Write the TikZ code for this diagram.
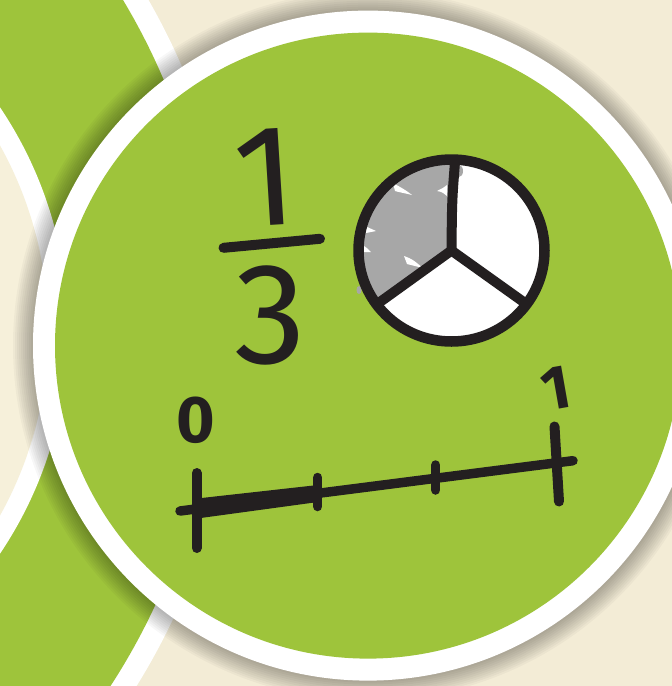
\documentclass[tikz,border=0pt]{standalone}
\usepackage{fontspec}
\setmainfont{Fira Sans}
\definecolor{bg}{HTML}{F3ECD6}
\definecolor{creamc}{HTML}{F6F0DA}
\definecolor{leaf}{HTML}{9EC43B}
\definecolor{ink}{HTML}{231F20}
\definecolor{piegray}{HTML}{A7A7A7}
\begin{document}
\begin{tikzpicture}[x=1pt,y=-1pt,
  pen/.style={draw=ink,line cap=round,line join=round},
  digit/.style={text=ink,inner sep=0pt}]
\useasboundingbox (0,0) rectangle (672,686);
\fill[bg] (0,0) rectangle (672,686);
\begin{scope}
\clip (0,0) rectangle (672,686);
% left green circle
\coordinate (lg) at (-433,333);
\fill[white] (lg) circle (670);
\fill[leaf] (lg) circle (648);
% cream circle
\coordinate (cc) at (-332,330.5);
\fill[white] (cc) circle (400);
\fill[creamc] (cc) circle (380);
% shadow of the main circle
\coordinate (mc) at (368,345.6);
\foreach \i in {1,...,10} \fill[black,opacity=0.03] (mc) circle ({335+2*\i});
\fill[white] (mc) circle (335);
\fill[leaf] (mc) circle (313);
\end{scope}
% pie
\coordinate (pc) at (451.5,250.5);
\begin{scope}
\clip (pc) ellipse (93 and 91);
\fill[white] (pc) ellipse (93 and 91);
\fill[piegray] (pc) -- (457,100) -- (300,100) -- (300,364) -- cycle;
\fill[white] (393,183) .. controls (400,187) and (406,190) .. (412,195) .. controls (404,193) and (398,192) .. (395,191) -- cycle;
\fill[white] (447,185) .. controls (443,188) .. (437,191) .. controls (442,192) .. (447,196) -- cycle;
\fill[white] (365,226) .. controls (370,228) .. (376,231) .. controls (371,232) .. (366,233) -- cycle;
\fill[white] (364,246) .. controls (367,248) .. (371,252) .. controls (368,252) .. (364,252) -- cycle;
\fill[white] (404,256) .. controls (412,259) .. (423,268) .. controls (415,266) .. (407,264) -- cycle;
\fill[piegray] (459,171) ellipse (4 and 6);
\end{scope}
\fill[piegray] (359,290) ellipse (2.5 and 4);
\coordinate (ptop) at (455,162);
\coordinate (pll) at (380,302);
\coordinate (plr) at (525,303);
\draw[pen,line width=10.5] (pc) ellipse (93 and 91);
\draw[pen,line width=10] (ptop) .. controls (452,200) .. (pc);
\draw[pen,line width=10] (pc) -- (pll);
\draw[pen,line width=10] (pc) -- (plr);
% fraction
\coordinate (fb0) at (223.5,247.8);
\coordinate (fb1) at (320,238.8);
\draw[pen,line width=10] (fb0) -- (fb1);
\node[digit,font=\fontsize{144}{144}\selectfont,rotate=3.6] (one) at (266,177) {1};
\node[digit,font=\fontsize{144}{144}\selectfont] (three) at (270,315) {3};
% number line
\coordinate (n0) at (180,511);
\coordinate (n1) at (573,460.7);
\draw[pen,line width=9.5] (n0) -- (n1);
\fill[ink] (197,498.5) -- (318,485) -- (318,502) -- (197,518.5) -- cycle;
\coordinate (t0a) at (196.7,473); \coordinate (t0b) at (196.7,548);
\coordinate (t1a) at (317.7,477.5); \coordinate (t1b) at (317.7,506.5);
\coordinate (t2a) at (435.7,465); \coordinate (t2b) at (435.7,490);
\coordinate (t3a) at (554.5,426.5); \coordinate (t3b) at (559,501.5);
\draw[pen,line width=10] (t0a) -- (t0b);
\draw[pen,line width=9.5] (t1a) -- (t1b);
\draw[pen,line width=9.5] (t2a) -- (t2b);
\draw[pen,line width=10] (t3a) -- (t3b);
\node[digit,font=\fontsize{66}{66}\selectfont\bfseries] (zero) at (196,420) {0};
\node[digit,font=\fontsize{62}{62}\selectfont\bfseries,rotate=10] (onel) at (556.5,388.5) {1};
\end{tikzpicture}
\end{document}
